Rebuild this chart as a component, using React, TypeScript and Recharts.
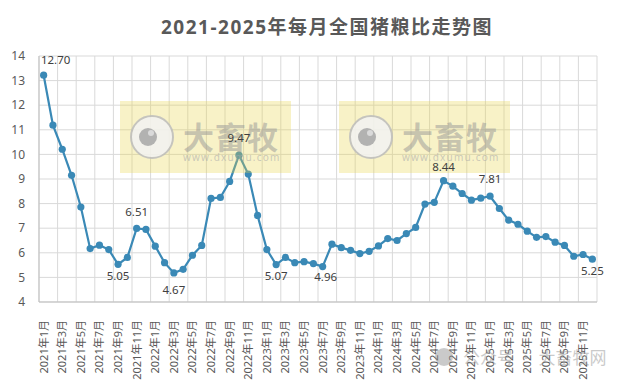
import React from 'react';
import { LineChart, Line, XAxis, YAxis, CartesianGrid, LabelList } from 'recharts';

const TITLE = '2021-2025年每月全国猪粮比走势图';
const YEARS = [2021, 2022, 2023, 2024, 2025];
const MONTHS = [1, 2, 3, 4, 5, 6, 7, 8, 9, 10, 11, 12];

const VALUES_2021 = [13.22, 11.19, 10.21, 9.15, 7.86, 6.17, 6.31, 6.13, 5.53, 5.81, 6.99, 6.95];
const VALUES_2022 = [6.27, 5.6, 5.18, 5.33, 5.9, 6.3, 8.21, 8.25, 8.9, 9.97, 9.2, 7.52];
const VALUES_2023 = [6.13, 5.52, 5.81, 5.6, 5.64, 5.56, 5.44, 6.35, 6.21, 6.1, 5.97, 6.06];
const VALUES_2024 = [6.28, 6.58, 6.5, 6.78, 7.03, 7.98, 8.05, 8.93, 8.71, 8.41, 8.14, 8.22];
const VALUES_2025 = [8.3, 7.8, 7.33, 7.16, 6.88, 6.63, 6.66, 6.43, 6.3, 5.86, 5.93, 5.74];
const VALUES = [...VALUES_2021, ...VALUES_2022, ...VALUES_2023, ...VALUES_2024, ...VALUES_2025];

const CATEGORIES = YEARS.flatMap((y) => MONTHS.map((m) => `${y}年${m}月`));

// labelled points: index -> text
const LABEL_INDEX = [0, 8, 10, 14, 21, 25, 30, 43, 48, 59];
const LABEL_TEXT = ['12.70', '5.05', '6.51', '4.67', '9.47', '5.07', '4.96', '8.44', '7.81', '5.25'];

const Y_TICKS = [4, 5, 6, 7, 8, 9, 10, 11, 12, 13, 14];

// style: label offsets (dx, dy) per labelled index
const LABEL_OFFSETS: Record<number, [number, number]> = {
  0: [12, -15],
  8: [0, 12],
  10: [0, -16],
  14: [0, 17],
  21: [0, -17],
  25: [0, 11],
  30: [3, 10],
  43: [0, -14],
  48: [0, -17],
  59: [0, 12],
};

const data = VALUES.map((v, i) => {
  const li = LABEL_INDEX.indexOf(i);
  return {
    pos: i + 0.5,
    cat: CATEGORIES[i],
    value: v,
    lbl: li >= 0 ? LABEL_TEXT[li] : '',
  };
});

const TICK_POS = data.filter((_, i) => i % 2 === 0).map((d) => d.pos);

const FONT = "'Noto Sans', 'Noto Sans CJK SC', sans-serif";
const LINE_COLOR = '#3a89b6';
const TEXT_COLOR = '#595959';

const XTick = (props: any) => {
  const { x, y, payload } = props;
  const idx = Math.floor(payload.value);
  return (
    <g transform={`translate(${x},${y})`}>
      <text
        transform="rotate(-90)"
        x={-10}
        y={0}
        dy={4}
        textAnchor="end"
        fontSize={11}
        fill={TEXT_COLOR}
        fontFamily={FONT}
      >
        {CATEGORIES[idx]}
      </text>
    </g>
  );
};

const PointLabel = (props: any) => {
  const { x, y, value, index } = props;
  if (!value) return null;
  const off = LABEL_OFFSETS[index] || [0, -15];
  return (
    <text
      x={x + off[0]}
      y={y + off[1]}
      dy={4}
      textAnchor="middle"
      fontSize={11.5}
      fill="#404040"
      fontFamily={FONT}
    >
      {value}
    </text>
  );
};

const WatermarkBox = ({ x }: { x: number }) => (
  <g>
    <rect x={x} y={101} width={171} height={72} fill="rgba(232,212,70,0.30)" />
    <circle cx={x + 32} cy={137} r={21} fill="#f3f3f3" stroke="#bdbdbd" strokeWidth={2} opacity={0.85} />
    <circle cx={x + 28} cy={137} r={9} fill="#ababab" opacity={0.9} />
    <circle cx={x + 31} cy={133} r={3} fill="#dadada" />
    <text
      x={x + 63}
      y={149}
      fontSize={31}
      fontWeight="bold"
      fill="rgba(150,150,150,0.5)"
      fontFamily="'Noto Sans CJK SC', sans-serif"
      letterSpacing={1}
    >
      大畜牧
    </text>
    <text
      x={x + 63}
      y={161}
      fontSize={10}
      fill="rgba(170,170,170,0.6)"
      fontFamily={FONT}
      letterSpacing={1.2}
    >
      www.dxumu.com
    </text>
  </g>
);

export default function App() {
  return (
    <div style={{ position: 'absolute', left: 0, top: 0, width: 627, height: 384, background: '#fff' }}>
      <LineChart
        width={627}
        height={384}
        data={data}
        margin={{ top: 56, right: 30, bottom: 0, left: 0 }}
        style={{ position: 'absolute', left: 0, top: 0 }}
      >
        <CartesianGrid
          stroke="#d9d9d9"
          strokeWidth={1}
          verticalCoordinatesGenerator={({ offset }: any) =>
            Array.from({ length: 31 }, (_, k) => offset.left + (offset.width * k) / 30)
          }
        />
        <XAxis
          dataKey="pos"
          type="number"
          domain={[0, 60]}
          ticks={TICK_POS}
          interval={0}
          height={82}
          tick={<XTick />}
          tickLine={false}
          axisLine={{ stroke: '#bfbfbf' }}
        />
        <YAxis
          domain={[4, 14]}
          ticks={Y_TICKS}
          width={39}
          tickLine={false}
          tickSize={6}
          tickMargin={8}
          axisLine={{ stroke: '#bfbfbf' }}
          tick={{ fontSize: 12, fill: TEXT_COLOR, fontFamily: FONT }}
          interval={0}
        />
        <Line
          type="linear"
          dataKey="value"
          stroke={LINE_COLOR}
          strokeWidth={2.2}
          dot={{ r: 3.6, fill: LINE_COLOR, stroke: LINE_COLOR, strokeWidth: 0 }}
          isAnimationActive={false}
        />
      </LineChart>
      <svg
        width={627}
        height={384}
        style={{ position: 'absolute', left: 0, top: 0, pointerEvents: 'none' }}
      >
        <text
          x={327}
          y={34}
          textAnchor="middle"
          fontSize={19}
          fontWeight="bold"
          fill={TEXT_COLOR}
          fontFamily={FONT}
          letterSpacing={1.5}
        >
          {TITLE}
        </text>
        <WatermarkBox x={120} />
        <WatermarkBox x={339} />
        <g opacity={0.45}>
          <circle cx={444} cy={357} r={9} fill="#8c8c8c" />
          <text x={463} y={364} fontSize={17} fill="#8c8c8c" fontFamily="'Noto Sans CJK SC', sans-serif">
            公众号 · 大畜牧网
          </text>
        </g>
      </svg>
      <LineChart
        width={627}
        height={384}
        data={data}
        margin={{ top: 56, right: 30, bottom: 82, left: 39 }}
        style={{ position: 'absolute', left: 0, top: 0, pointerEvents: 'none' }}
      >
        <XAxis dataKey="pos" type="number" domain={[0, 60]} hide />
        <YAxis domain={[4, 14]} ticks={Y_TICKS} hide />
        <Line
          type="linear"
          dataKey="value"
          stroke="none"
          dot={false}
          isAnimationActive={false}
        >
          <LabelList dataKey="lbl" content={<PointLabel />} />
        </Line>
      </LineChart>
    </div>
  );
}
